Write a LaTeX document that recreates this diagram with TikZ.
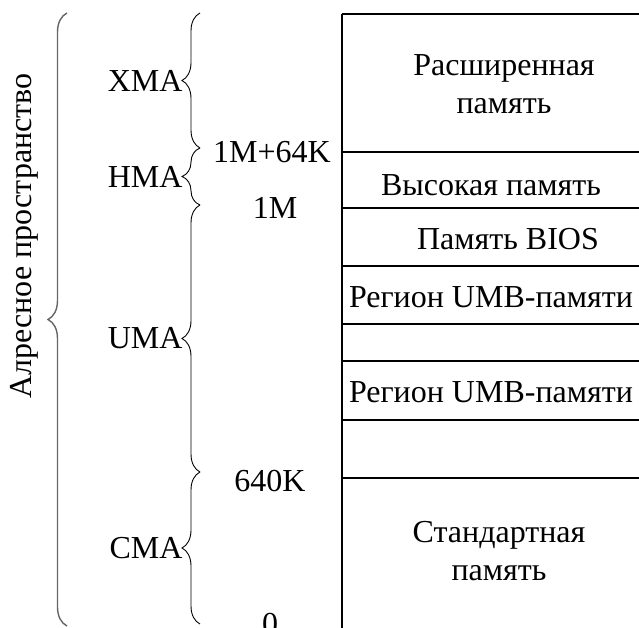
\documentclass[tikz,border=0pt]{standalone}
\usepackage{fontspec}
\setmainfont{Liberation Serif}
\usetikzlibrary{positioning, decorations.pathreplacing}

\begin{document}
\begin{tikzpicture}[x=1pt, y=-1pt, font=\fontsize{32}{38}\selectfont,
    rowline/.style={line width=1.3pt},
    areabrace/.style={decorate, decoration={brace, amplitude=18pt}, line width=0.9pt},
    fullbrace/.style={decorate, decoration={brace, amplitude=19pt}, line width=1.4pt, black!60},
    areaname/.style={inner sep=0pt, anchor=east},
    memtext/.style={inner sep=0pt, align=center}] % y runs downwards, 1pt per pixel

    \useasboundingbox (0,0) rectangle (639,628);

    % 1. Memory map (left edge and row borders, open to the right and bottom)
    \draw[rowline] (342,14) -- (342,628);
    \foreach \y in {14,152,208,266,324,361,420,478}
        \draw[rowline] (342,\y) -- (639,\y);

    % 2. Texts in the rows
    \node[memtext] (ext)  at (504,84)  {Расширенная\\память};
    \node[memtext] (high) at (491,185) {Высокая память};
    \node[memtext] (bios) at (508,239) {Память BIOS};
    \node[memtext] (umba) at (491,297) {Регион UMB-памяти};
    \node[memtext] (umbb) at (491,392) {Регион UMB-памяти};
    \node[memtext] (std)  at (499,551) {Стандартная\\память};

    % 3. Addresses
    \node[memtext] (a1m64) at (272,152) {1M+64K};
    \node[memtext] (a1m)   at (275,208) {1M};
    \node[memtext] (a640)  at (270,481) {640K};
    \node[memtext] (a0)    at (270,624) {0};

    % 4. Braces for the areas (drawn bottom to top so they open to the left)
    \coordinate (b0) at (200,624);
    \coordinate (b1) at (200,472);
    \coordinate (b2) at (200,205);
    \coordinate (b3) at (200,148);
    \coordinate (b4) at (200,13);
    \draw[areabrace] (b0) -- (b1) node[midway, areaname, xshift=-17pt] (cma) {CMA};
    \draw[areabrace] (b1) -- (b2) node[midway, areaname, xshift=-17pt] (uma) {UMA};
    \draw[areabrace] (b2) -- (b3) node[midway, areaname, xshift=-17pt] (hma) {HMA};
    \draw[areabrace] (b3) -- (b4) node[midway, areaname, xshift=-17pt] (xma) {XMA};

    % 5. Whole address space
    \coordinate (s0) at (67,626);
    \coordinate (s1) at (67,13);
    \draw[fullbrace] (s0) -- (s1);
    \node[memtext, rotate=90] (space) at (24,236) {Алресное пространство};

\end{tikzpicture}
\end{document}
